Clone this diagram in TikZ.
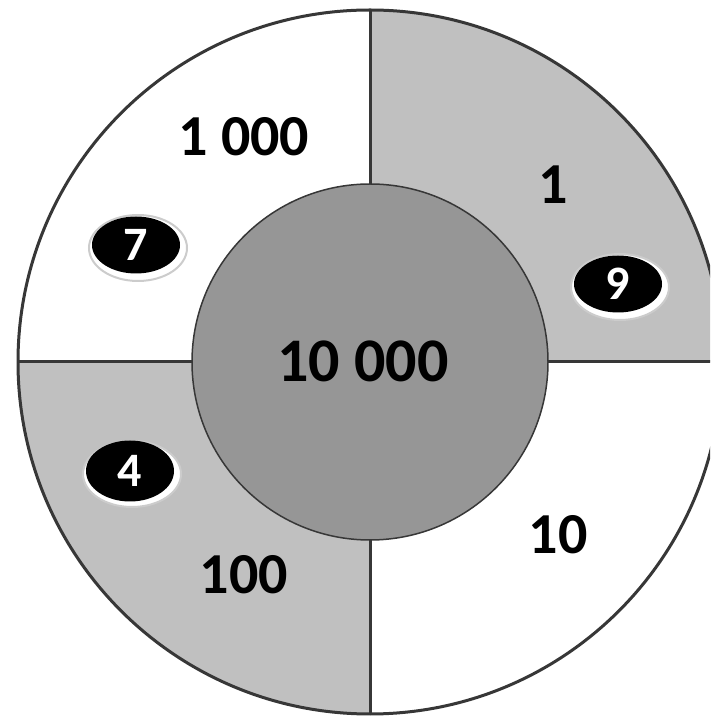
\documentclass[tikz,border=0pt]{standalone}
\usepackage{fontspec}
\setmainfont{Carlito}
\usetikzlibrary{shapes.geometric,calc}
\definecolor{ringgray}{RGB}{192,192,192}
\definecolor{coregray}{RGB}{150,150,150}
\definecolor{edgegray}{RGB}{55,55,55}

\begin{document}
\begin{tikzpicture}[x=1pt,y=1pt,
num/.style={inner sep=0pt,font=\fontsize{58}{60}\selectfont\bfseries},
btn/.style={ellipse,fill=black,text=white,inner sep=0pt,minimum width=88pt,minimum height=57pt,font=\fontsize{48}{50}\selectfont\bfseries},
rim/.style={fill=white,draw=black!20,line width=2pt}]
\useasboundingbox (0,0) rectangle (710,718);
\coordinate (c) at (370,356);
\begin{scope}
\clip (0,0) rectangle (710,718);
% shaded quarters of the ring
\fill[ringgray] (c) -- ++(0:352) arc[start angle=0,end angle=90,radius=352] -- cycle;
\fill[ringgray] (c) -- ++(180:352) arc[start angle=180,end angle=270,radius=352] -- cycle;
\draw[edgegray,line width=3pt] (c) circle[radius=352];
\draw[edgegray,line width=3pt] ($(c)+(0,352)$) -- ($(c)+(0,-352)$);
\draw[edgegray,line width=3pt] ($(c)+(-352,0)$) -- ($(c)+(352,0)$);
\end{scope}
\filldraw[fill=coregray,draw=edgegray,line width=1.5pt] (c) circle[radius=178];
% values
\node[num] (thousand) at (244,581) {1 000};
\node[num] (one) at (553,533) {1};
\node[num,font=\fontsize{62}{64}\selectfont\bfseries] (core) at (363,357) {10 000};
\node[num] (ten) at (558,183) {10};
\node[num] (hundred) at (244,143) {100};
% digit buttons
\coordinate (p7) at (136,473);
\coordinate (p9) at (618,434);
\coordinate (p4) at (130,247);
\foreach \p in {p7,p9,p4}
  \filldraw[rim] ($(\p)+(2,-3)$) ellipse[x radius=49,y radius=33];
\node[btn] (b7) at (p7) {7};
\node[btn] (b9) at (p9) {9};
\node[btn,minimum height=61pt] (b4) at (p4) {4};
\end{tikzpicture}
\end{document}
